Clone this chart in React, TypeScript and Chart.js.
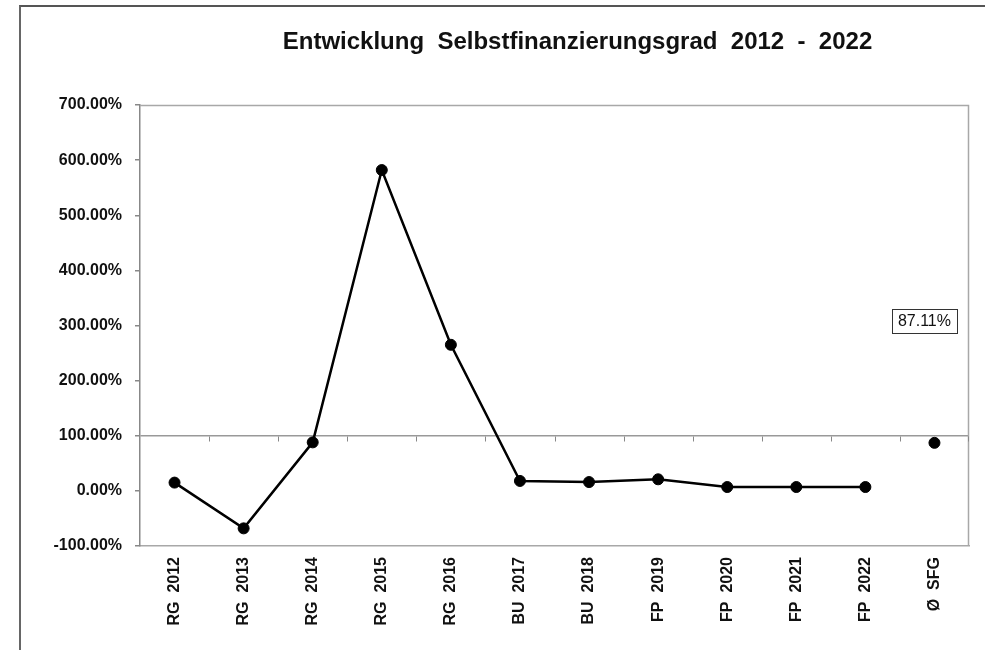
import React, { useEffect, useRef } from 'react';
import { Chart, registerables } from 'chart.js';

Chart.register(...registerables);

const TITLE = 'Entwicklung  Selbstfinanzierungsgrad  2012  -  2022';
const categories = ['RG  2012', 'RG  2013', 'RG  2014', 'RG  2015', 'RG  2016', 'BU  2017', 'BU  2018', 'FP  2019', 'FP  2020', 'FP  2021', 'FP  2022', 'Ø  SFG'];
const sfgValues: (number | null)[] = [15, -68, 88, 582, 265, 18, 16, 21, 7, 7, 7, null];
const averageValues: (number | null)[] = [null, null, null, null, null, null, null, null, null, null, null, 87.11];
const averageLabel = '87.11%';
const yMin = -100;
const yMax = 700;
const yStep = 100;
const referenceLine = 100;

const FONT = 'Arial, "Liberation Sans", Helvetica, sans-serif';

const decorPlugin = {
  id: 'decor',
  beforeDatasetsDraw(chart: any) {
    const { ctx, chartArea, scales } = chart;
    const x = scales.x;
    const y = scales.y;
    ctx.save();
    ctx.strokeStyle = '#a8a8a8';
    ctx.lineWidth = 1.5;
    ctx.beginPath();
    ctx.moveTo(chartArea.left, chartArea.top + 0.5);
    ctx.lineTo(chartArea.right - 0.5, chartArea.top + 0.5);
    ctx.lineTo(chartArea.right - 0.5, chartArea.bottom);
    ctx.stroke();
    const yRef = Math.round(y.getPixelForValue(referenceLine)) + 0.5;
    ctx.strokeStyle = '#888';
    ctx.lineWidth = 1;
    ctx.beginPath();
    for (let i = 0; i < categories.length - 1; i++) {
      const bx = Math.round((x.getPixelForValue(i) + x.getPixelForValue(i + 1)) / 2) + 0.5;
      ctx.moveTo(bx, yRef);
      ctx.lineTo(bx, yRef + 5);
    }
    ctx.moveTo(chartArea.right - 0.5, yRef);
    ctx.lineTo(chartArea.right - 0.5, yRef + 5);
    ctx.stroke();
    ctx.restore();
  },
  afterDatasetsDraw(chart: any) {
    const { ctx, chartArea } = chart;
    ctx.save();
    ctx.fillStyle = '#111';
    ctx.font = `bold 24px ${FONT}`;
    ctx.textAlign = 'center';
    ctx.textBaseline = 'middle';
    ctx.fillText(TITLE, (chartArea.left + chartArea.right) / 2 + 23, 42);
    const meta = chart.getDatasetMeta(1);
    const el = meta.data[averageValues.length - 1];
    if (el) {
      const cx = el.x - 10;
      const cy = el.y - 122;
      ctx.font = `16px ${FONT}`;
      const w = ctx.measureText(averageLabel).width + 12;
      const h = 24;
      ctx.fillStyle = '#fff';
      ctx.fillRect(cx - w / 2, cy - h / 2, w, h);
      ctx.strokeStyle = '#333';
      ctx.lineWidth = 1;
      ctx.strokeRect(Math.round(cx - w / 2) + 0.5, Math.round(cy - h / 2) + 0.5, Math.round(w), h);
      ctx.fillStyle = '#111';
      ctx.textAlign = 'center';
      ctx.textBaseline = 'middle';
      ctx.fillText(averageLabel, cx, cy + 1);
    }
    ctx.restore();
  },
};

function SfgChart() {
  const ref = useRef<HTMLCanvasElement | null>(null);
  useEffect(() => {
    if (!ref.current) return;
    const pointStyle = {
      pointRadius: 5.5,
      pointBorderWidth: 1,
      pointBackgroundColor: '#000',
      pointBorderColor: '#000',
      pointStyle: 'circle',
    };
    const chart = new Chart(ref.current, {
      type: 'line',
      data: {
        labels: categories,
        datasets: [
          {
            label: 'SFG',
            data: sfgValues,
            borderColor: '#000',
            backgroundColor: '#000',
            borderWidth: 2.5,
            tension: 0,
            spanGaps: false,
            ...pointStyle,
          },
          {
            label: 'Ø SFG',
            data: averageValues,
            showLine: false,
            borderColor: '#000',
            backgroundColor: '#000',
            borderWidth: 2.5,
            ...pointStyle,
          },
        ],
      },
      options: {
        animation: false,
        responsive: true,
        maintainAspectRatio: false,
        layout: { padding: { top: 105, right: 16, left: 0, bottom: 0 } },
        plugins: {
          legend: { display: false },
          title: { display: false },
          tooltip: { enabled: false },
        },
        scales: {
          x: {
            type: 'category',
            offset: true,
            grid: { display: true, drawOnChartArea: false, drawTicks: false },
            border: { display: true, color: '#a8a8a8', width: 1.5 },
            ticks: {
              minRotation: 90,
              maxRotation: 90,
              autoSkip: false,
              padding: 11,
              color: '#111',
              font: { family: FONT, size: 16, weight: 'bold' },
            },
            afterFit(scale: any) {
              scale.height = 104;
            },
          },
          y: {
            min: yMin,
            max: yMax,
            ticks: {
              stepSize: yStep,
              padding: 13,
              color: '#111',
              font: { family: FONT, size: 16, weight: 'bold' },
              callback: (v: any) => Number(v).toFixed(2) + '%',
            },
            grid: {
              drawOnChartArea: true,
              drawTicks: true,
              tickLength: 5,
              tickColor: '#888',
              color: (c: any) => (c.tick && c.tick.value === referenceLine ? '#999' : 'rgba(0,0,0,0)'),
              lineWidth: 1.5,
            },
            border: { display: true, color: '#888', width: 1.5 },
            afterFit(scale: any) {
              scale.width = 140;
            },
          },
        },
      },
      plugins: [decorPlugin],
    } as any);
    return () => chart.destroy();
  }, []);
  return <canvas ref={ref} />;
}

export default function App() {
  return (
    <div style={{ position: 'fixed', left: 0, top: 0, width: 985, height: 650, background: '#fff', overflow: 'hidden' }}>
      <div style={{ position: 'absolute', left: 0, top: 0, width: 985, height: 650 }}>
        <SfgChart />
      </div>
      <div
        style={{
          position: 'absolute',
          left: 19,
          top: 5,
          width: 1000,
          height: 700,
          borderLeft: '2px solid #666',
          borderTop: '2px solid #555',
          pointerEvents: 'none',
        }}
      />
    </div>
  );
}
